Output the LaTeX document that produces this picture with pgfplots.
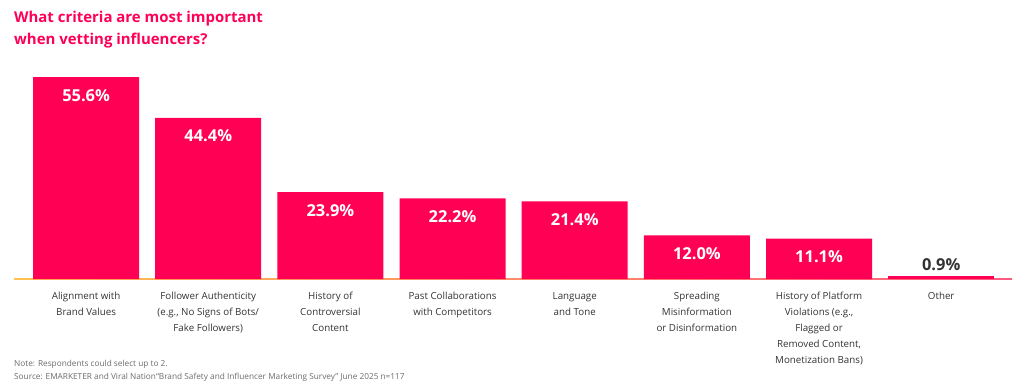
\documentclass[border=0pt]{standalone}
\usepackage{pgfplots}
\pgfplotsset{compat=1.18}
\usepackage{fontspec}
\setmainfont{Open Sans}
\definecolor{pinkbar}{HTML}{FF0055}
\definecolor{lab}{HTML}{333333}
\definecolor{note}{HTML}{6B6B6B}
\definecolor{lineor}{HTML}{FFC24F}
\definecolor{linepk}{HTML}{FF5A82}
\begin{document}
\begin{tikzpicture}[x=1bp,y=1bp]
\path[use as bounding box] (0,0) rectangle (1024,384);
\node[anchor=base west, inner sep=0, font=\fontsize{15}{18}\selectfont\bfseries, text=pinkbar] at (14,361.5) {What criteria are most important};
\node[anchor=base west, inner sep=0, font=\fontsize{15}{18}\selectfont\bfseries, text=pinkbar] at (14,340) {when vetting influencers?};
\shade[left color=lineor, right color=linepk] (14,104.4) rectangle (1012,105.6);
\begin{axis}[
  at={(14bp,105bp)}, anchor=south west,
  scale only axis, width=998bp, height=217.8bp,
  xmin=-0.59, xmax=7.58, ymin=0, ymax=60,
  axis line style={draw=none},
  ytick=\empty,
  xtick={0,1,2,3,4,5,6,7},
  xtick style={draw=none},
  xticklabels={{Alignment with\\Brand Values},
    {Follower Authenticity\\(e.g., No Signs of Bots/\\Fake Followers)},
    {History of\\Controversial\\Content},
    {Past Collaborations\\with Competitors},
    {Language\\and Tone},
    {Spreading\\Misinformation\\or Disinformation},
    {History of Platform\\Violations (e.g.,\\Flagged or\\Removed Content,\\Monetization Bans)},
    {Other}},
  xticklabel style={align=center, font=\fontsize{9.8}{16}\selectfont, text=lab, inner sep=0pt, yshift=-9bp},
  ybar, bar width=106bp, bar shift=0pt,
  /pgf/number format/assume math mode=true,
  nodes near coords={\pgfmathprintnumber[fixed,fixed zerofill,precision=1,assume math mode=true]{\pgfplotspointmeta}\%},
  clip=false,
]
\addplot[fill=pinkbar, draw=none,
  nodes near coords style={anchor=north, inner sep=0pt, yshift=-12bp, text=white, font=\fontsize{16.5}{18}\selectfont\bfseries}]
  coordinates {(0,55.6) (1,44.4) (2,23.9) (3,22.2) (4,21.4) (5,12.0) (6,11.1)};
\addplot[fill=pinkbar, draw=none,
  nodes near coords style={anchor=south, inner sep=0pt, yshift=5bp, text=lab, font=\fontsize{16.5}{18}\selectfont\bfseries}]
  coordinates {(7,0.9)};
\end{axis}
\node[anchor=base west, inner sep=0, font=\fontsize{8.3}{10}\selectfont, text=note] at (14,18) {Note: Respondents could select up to 2.};
\node[anchor=base west, inner sep=0, font=\fontsize{8.3}{10}\selectfont, text=note] at (14,5) {Source: EMARKETER and Viral Nation“Brand Safety and Influencer Marketing Survey” June 2025 n=117};
\end{tikzpicture}
\end{document}
